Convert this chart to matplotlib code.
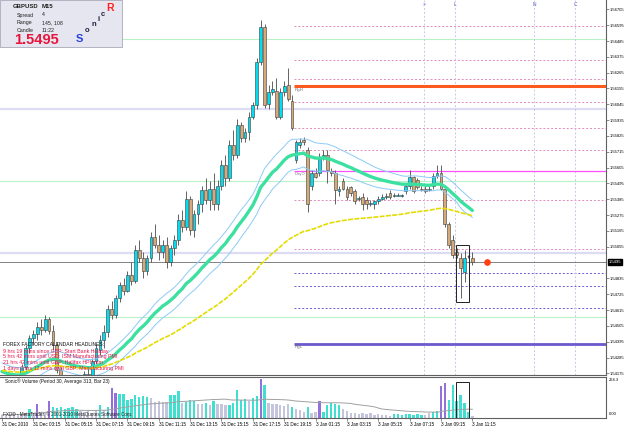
import matplotlib.pyplot as plt
import matplotlib.transforms as mtransforms
from matplotlib.patches import Rectangle
import numpy as np
import pandas as pd

plt.rcParams['font.family'] = ['Liberation Sans', 'DejaVu Sans']

W, H = 625, 429

# ---------------- data (GBPUSD M15) ----------------
opens = [1.5401, 1.5399, 1.5402, 1.5404, 1.5408, 1.5413, 1.5422, 1.5435, 1.5442, 1.5445,
         1.5450, 1.5448, 1.5455, 1.5447, 1.5437, 1.5420, 1.5412, 1.5409, 1.5411, 1.5407,
         1.5411, 1.5414, 1.5417, 1.5415, 1.5426, 1.5434, 1.5441, 1.5446, 1.5462, 1.5458,
         1.5470, 1.5479, 1.5475, 1.5486, 1.5482, 1.5503, 1.5498, 1.5489, 1.5498, 1.5512,
         1.5507, 1.5502, 1.5507, 1.5495, 1.5505, 1.5510, 1.5524, 1.5519, 1.5539, 1.5517,
         1.5528, 1.5535, 1.5545, 1.5538, 1.5546, 1.5535, 1.5548, 1.5562, 1.5553, 1.5576,
         1.5569, 1.5590, 1.5581, 1.5585, 1.5596, 1.5604, 1.5634, 1.5658, 1.5605, 1.5613,
         1.5614, 1.5596, 1.5613, 1.5618, 1.5607, 1.5566, 1.5576, 1.5580, 1.5573, 1.5548,
         1.5557, 1.5557, 1.5567, 1.5569, 1.5558, 1.5557, 1.5544, 1.5551, 1.5546, 1.5547,
         1.5544, 1.5539, 1.5540, 1.5538, 1.5535, 1.5535, 1.5537, 1.5539, 1.5540, 1.5543,
         1.5541, 1.5541, 1.5541, 1.5544, 1.5548, 1.5554, 1.5552, 1.5546, 1.5546, 1.5545,
         1.5548, 1.5555, 1.5557, 1.5546, 1.5521, 1.5510, 1.5502, 1.5498, 1.5488, 1.5499,
         1.5498]
highs = [1.5405, 1.5404, 1.5406, 1.5410, 1.5415, 1.5424, 1.5437, 1.5444, 1.5448, 1.5453,
         1.5455, 1.5458, 1.5457, 1.5451, 1.5439, 1.5422, 1.5416, 1.5414, 1.5415, 1.5413,
         1.5416, 1.5419, 1.5422, 1.5428, 1.5438, 1.5444, 1.5451, 1.5465, 1.5468, 1.5472,
         1.5481, 1.5484, 1.5489, 1.5495, 1.5507, 1.5510, 1.5502, 1.5500, 1.5516, 1.5521,
         1.5514, 1.5510, 1.5512, 1.5507, 1.5514, 1.5528, 1.5531, 1.5544, 1.5541, 1.5531,
         1.5538, 1.5548, 1.5553, 1.5551, 1.5557, 1.5552, 1.5566, 1.5569, 1.5580, 1.5587,
         1.5594, 1.5592, 1.5588, 1.5599, 1.5606, 1.5637, 1.5663, 1.5660, 1.5618, 1.5621,
         1.5623, 1.5616, 1.5621, 1.5630, 1.5611, 1.5580, 1.5581, 1.5582, 1.5575, 1.5559,
         1.5560, 1.5571, 1.5573, 1.5573, 1.5560, 1.5559, 1.5548, 1.5553, 1.5548, 1.5548,
         1.5546, 1.5541, 1.5543, 1.5540, 1.5538, 1.5538, 1.5541, 1.5542, 1.5543, 1.5545,
         1.5543, 1.5543, 1.5542, 1.5549, 1.5559, 1.5555, 1.5553, 1.5548, 1.5548, 1.5548,
         1.5557, 1.5562, 1.5562, 1.5548, 1.5523, 1.5514, 1.5505, 1.5501, 1.5503, 1.5500,
         1.5502]
lows = [1.5397, 1.5394, 1.5398, 1.5401, 1.5405, 1.5410, 1.5420, 1.5432, 1.5437, 1.5441,
        1.5444, 1.5446, 1.5445, 1.5434, 1.5418, 1.5410, 1.5406, 1.5404, 1.5405, 1.5404,
        1.5407, 1.5410, 1.5413, 1.5413, 1.5424, 1.5430, 1.5435, 1.5443, 1.5455, 1.5456,
        1.5467, 1.5472, 1.5474, 1.5479, 1.5480, 1.5495, 1.5484, 1.5486, 1.5495, 1.5505,
        1.5496, 1.5498, 1.5491, 1.5492, 1.5500, 1.5507, 1.5516, 1.5517, 1.5514, 1.5512,
        1.5521, 1.5530, 1.5535, 1.5531, 1.5531, 1.5531, 1.5545, 1.5548, 1.5551, 1.5566,
        1.5567, 1.5578, 1.5578, 1.5580, 1.5594, 1.5601, 1.5632, 1.5602, 1.5601, 1.5611,
        1.5594, 1.5594, 1.5610, 1.5607, 1.5587, 1.5564, 1.5574, 1.5576, 1.5530, 1.5545,
        1.5553, 1.5555, 1.5566, 1.5550, 1.5555, 1.5535, 1.5541, 1.5545, 1.5538, 1.5541,
        1.5535, 1.5537, 1.5531, 1.5532, 1.5534, 1.5532, 1.5535, 1.5538, 1.5539, 1.5539,
        1.5540, 1.5541, 1.5540, 1.5542, 1.5546, 1.5543, 1.5546, 1.5544, 1.5543, 1.5544,
        1.5546, 1.5553, 1.5545, 1.5519, 1.5505, 1.5498, 1.5498, 1.5470, 1.5481, 1.5498,
        1.5493]
closes = [1.5399, 1.5402, 1.5404, 1.5408, 1.5413, 1.5422, 1.5435, 1.5442, 1.5445, 1.5450,
          1.5448, 1.5455, 1.5447, 1.5437, 1.5420, 1.5412, 1.5409, 1.5411, 1.5407, 1.5411,
          1.5414, 1.5417, 1.5415, 1.5426, 1.5435, 1.5441, 1.5446, 1.5462, 1.5458, 1.5470,
          1.5479, 1.5475, 1.5486, 1.5482, 1.5503, 1.5498, 1.5489, 1.5498, 1.5512, 1.5507,
          1.5502, 1.5507, 1.5495, 1.5505, 1.5510, 1.5524, 1.5519, 1.5539, 1.5517, 1.5528,
          1.5535, 1.5545, 1.5538, 1.5546, 1.5535, 1.5548, 1.5562, 1.5553, 1.5576, 1.5569,
          1.5590, 1.5581, 1.5585, 1.5596, 1.5604, 1.5634, 1.5658, 1.5604, 1.5613, 1.5615,
          1.5596, 1.5613, 1.5617, 1.5608, 1.5588, 1.5578, 1.5578, 1.5578, 1.5535, 1.5557,
          1.5554, 1.5567, 1.5569, 1.5559, 1.5557, 1.5545, 1.5546, 1.5546, 1.5540, 1.5543,
          1.5537, 1.5539, 1.5535, 1.5535, 1.5536, 1.5537, 1.5539, 1.5540, 1.5541, 1.5540,
          1.5541, 1.5541, 1.5541, 1.5548, 1.5554, 1.5544, 1.5547, 1.5545, 1.5544, 1.5546,
          1.5555, 1.5557, 1.5546, 1.5521, 1.5507, 1.5500, 1.5500, 1.5491, 1.5498, 1.5499,
          1.5495]

volumes = [20, 25, 18, 30, 22, 28, 35, 60, 35, 95,
           40, 30, 110, 70, 65, 72, 60, 68, 75, 62,
           45, 40, 50, 35, 55, 85, 50, 70, 200, 165,
           160, 155, 120, 125, 150, 140, 145, 140, 130, 105,
           110, 108, 105, 150, 150, 175, 100, 105, 120, 115,
           90, 95, 100, 85, 110, 95, 90, 85, 88, 100,
           185, 120, 125, 110, 135, 145, 260, 220, 100, 95,
           90, 85, 80, 95, 70, 60, 50, 40, 75, 35,
           40, 110, 40, 85, 100, 95, 85, 60, 45, 30,
           30, 25, 30, 25, 30, 20, 25, 20, 22, 15,
           25, 25, 20, 25, 25, 22, 25, 22, 20, 35,
           40, 45, 210, 230, 120, 215, 110, 150, 100, 40,
           10]
# c = normal, l = low, p = climax
vol_kind = list("lllllllclp" "llpccccccc" "lllllclcpp" "ccccccccll"
                "lllccclccc" "llclclllc" "c" "cccl" "ccpcll" "llllclllcl"
                "lpccccclll" "llllllllll" "ccccccccll" "ccppcccccc" "l")

# Sonic R dragon / trend seeds (value of the averages at the first bar)
dragon_seed = 1.5420
dragon_high_seed = 1.5426
dragon_low_seed = 1.5414
trend_seed = 1.5420

# levels
session_start = 75
pivot_levels = [1.5659, 1.5635, 1.5622, 1.5606, 1.5588, 1.5573, 1.5538, 1.5504]
lower_levels = [1.5487, 1.5478, 1.5463]
green_levels = [1.5650, 1.5551, 1.5457]
lavender_levels = [1.5601, 1.5501]
range_high = 1.5617
range_low = 1.5438
day_open = 1.5558

news_bars = [107.7, 115.6, 135.7, 146.2]
news_marks = ['>', 'L', 'N', 'C']

price_ticks = [1.56705, 1.56595, 1.56485, 1.56375, 1.56265, 1.56155, 1.56045, 1.55935,
               1.55825, 1.55715, 1.55605, 1.55495, 1.55385, 1.55275, 1.55165, 1.55055,
               1.54835, 1.54725, 1.54615, 1.54505, 1.54395, 1.54285, 1.54175]
time_bars = [0, 8, 16, 24, 32, 40, 48, 56, 64, 72, 80, 88, 96, 104, 112, 120]
time_labels = ['31 Dec 2010', '31 Dec 03:15', '31 Dec 05:15', '31 Dec 07:15', '31 Dec 09:15',
               '31 Dec 11:15', '31 Dec 13:15', '31 Dec 15:15', '31 Dec 17:15', '31 Dec 19:15',
               '3 Jan 01:15', '3 Jan 03:15', '3 Jan 05:15', '3 Jan 07:15', '3 Jan 09:15',
               '3 Jan 11:15']

headlines = ['9 hrs 19 mins since GBP: Start Bank Holiday',
             '5 hrs 42 mins until USD: ISM Manufacturing PMI',
             '21 hrs 42 mins until GBP: Halifax HPI m/m',
             '1 days 0 hrs 12 mins until GBP: Manufacturing PMI']

vol_max = 264.3

# ---------------- figure ----------------
BULL = '#00dcf0'
BEAR = '#d4ab78'
VOLC = {'c': '#40e0d0', 'l': '#c4c4dc', 'p': '#9370db'}


def fx(px):
    return px / W


def fy(py):
    return 1 - py / H


def ema(values, span, seed):
    s = pd.Series([seed] + list(values))
    return s.ewm(span=span, adjust=False).mean().to_numpy()[1:]


o = np.array(opens)
h = np.array(highs)
lo = np.array(lows)
c = np.array(closes)
bars = np.arange(len(c))

fig = plt.figure(figsize=(W / 100, H / 100), dpi=100, facecolor='white')
ax = fig.add_axes([0, fy(375), fx(606), 375 / H])
axv = fig.add_axes([0, fy(418), fx(606), 41 / H])

xmin, xmax = -0.51, 154.1
ax.set_xlim(xmin, xmax)
axv.set_xlim(xmin, xmax)
ax.set_ylim(1.54164, 1.5677)

# horizontal levels
for lv in green_levels:
    ax.axhline(lv, color='#b8f0c8', lw=0.8, zorder=1)
for lv in lavender_levels:
    ax.axhline(lv, color='#dcdcf4', lw=1.6, zorder=1)
for lv in pivot_levels:
    ax.hlines(lv, session_start - 0.5, xmax, color='#e08ab8', lw=0.7,
              linestyles=(0, (2, 2)), zorder=1)
for lv in lower_levels:
    ax.hlines(lv, session_start - 0.5, xmax, color='#6a5acd', lw=0.7,
              linestyles=(0, (2, 2)), zorder=1)
ax.hlines(range_high, session_start - 0.5, xmax, color='#ff5a1e', lw=2.2, zorder=2)
ax.hlines(range_low, session_start - 0.5, xmax, color='#6a5acd', lw=2.0, zorder=2)
ax.hlines(day_open, session_start - 0.5, xmax, color='#ff50ff', lw=0.9, zorder=2)
ax.text(session_start - 0.3, range_high - 0.0001, 'RgH', fontsize=3.2, color='#707070',
        va='top', zorder=6)
ax.text(session_start - 0.3, range_low - 0.0001, 'RgL', fontsize=3.2, color='#707070',
        va='top', zorder=6)
ax.text(session_start - 0.3, day_open - 0.00005, 'DayO', fontsize=3.0, color='#808080',
        va='top', zorder=6)

for nb, mk in zip(news_bars, news_marks):
    ax.axvline(nb, color='#c8c8e4', lw=0.7, ls=(0, (2, 2)), zorder=1)
    ax.text(nb, 1.5674, mk, fontsize=3.5, color='#5a5ac8', ha='center', va='center')

ax.axhline(c[-1], color='#6e6e6e', lw=0.6, zorder=2)

# candles
ax.vlines(bars, lo, h, color='#4a4a4a', lw=0.6, zorder=3)
body = np.where(np.abs(c - o) < 0.00002, 0.00002, c - o)
up = c >= o
ax.bar(bars[up], body[up], bottom=o[up], width=0.72, color=BULL,
       edgecolor='#3a3a3a', lw=0.4, zorder=4)
ax.bar(bars[~up], body[~up], bottom=o[~up], width=0.72, color=BEAR,
       edgecolor='#3a3a3a', lw=0.4, zorder=4)

# Sonic R dragon and trend
ax.plot(bars, ema(highs, 34, dragon_high_seed), color='#8ccaf8', lw=0.7, zorder=5)
ax.plot(bars, ema(lows, 34, dragon_low_seed), color='#8ccaf8', lw=0.7, zorder=5)
ax.plot(bars, ema(closes, 34, dragon_seed), color='#3ce0a0', lw=2.4, zorder=5,
        solid_capstyle='round')
ax.plot(bars, ema(closes, 89, trend_seed), color='#e4dc00', lw=1.2,
        ls=(0, (3, 0.8)), zorder=5)

# selection box and current price dot
sel = slice(116, 120)
ax.add_patch(Rectangle((115.9, lo[sel].min() - 0.0003), 3.2,
                       h[sel].max() - lo[sel].min() + 0.0005,
                       fill=False, ec='#202020', lw=0.7, zorder=6))
ax.plot([123.7], [c[-1]], 'o', color='#ff4010', ms=3.8, zorder=7)

# axes styling
for s in ['left', 'top']:
    ax.spines[s].set_visible(False)
for s in ['right', 'bottom']:
    ax.spines[s].set_color('#606060')
    ax.spines[s].set_linewidth(0.8)
ax.set_xticks([])
ax.yaxis.tick_right()
ax.set_yticks(price_ticks)
ax.set_yticklabels([f'{p:.5f}' for p in price_ticks])
ax.tick_params(axis='y', length=2, width=0.5, pad=1, labelsize=3.0, color='#606060')
tr = mtransforms.blended_transform_factory(ax.transAxes, ax.transData)
ax.text(1.004, c[-1], f'{c[-1]:.4f}', transform=tr, fontsize=3.0, color='white',
        va='center', ha='left', clip_on=False,
        bbox=dict(fc='black', ec='black', pad=0.6))

# headlines
ax.text(fx(3) / fx(606), 1 - 344 / 375, 'FOREX FACTORY CALENDAR HEADLINES:',
        transform=ax.transAxes, fontsize=3.6, color='#101010', va='center', zorder=8)
for k, line in enumerate(headlines):
    ax.text(fx(3) / fx(606), 1 - (351 + 5.8 * k) / 375, line, transform=ax.transAxes,
            fontsize=3.8, color='#e8144a', va='center', zorder=8)

# volume panel
kinds = vol_kind[:len(volumes)]
axv.bar(bars, volumes, width=0.6, color=[VOLC[k] for k in kinds], lw=0, zorder=2)
axv.plot(bars, pd.Series(volumes).rolling(30, min_periods=1).mean(),
         color='#a0a0a0', lw=0.7, zorder=3)
axv.set_ylim(0, 270)
axv.add_patch(Rectangle((115.9, 2), 3.2, 233, fill=False, ec='#202020', lw=0.7, zorder=4))
axv.spines['left'].set_visible(False)
for s in ['right', 'bottom', 'top']:
    axv.spines[s].set_color('#606060')
    axv.spines[s].set_linewidth(0.8)
axv.set_yticks([])
axv.set_xticks(time_bars)
axv.set_xticklabels(time_labels)
axv.tick_params(axis='x', length=2, width=0.5, pad=1, labelsize=3.3, color='#606060')
for lbl in axv.get_xticklabels():
    lbl.set_horizontalalignment('left')
axv.text(0.008, 0.9, 'Sonic® Volume (Period 30, Average 313, Bar 23)', transform=axv.transAxes,
         fontsize=3.4, color='#101010', va='center')
axv.text(0.005, 0.1, 'FXDD - MetaTrader, © 2001-2010 MetaQuotes Software Corp.',
         transform=axv.transAxes, fontsize=3.3, color='#202020', va='center', zorder=5)
fig.text(fx(609), fy(380), f'{vol_max:.1f}', fontsize=3.0, va='center')
fig.text(fx(609), fy(414), '0.00', fontsize=3.0, va='center')

# info panel
fig.add_artist(Rectangle((0, fy(47)), fx(122), 47 / H, transform=fig.transFigure,
                         fc='#e6e6f0', ec='#a8a8b8', lw=0.6, zorder=10))
info = [('GBPUSD', 13, 6, 4.3, 'bold'), ('M15', 42, 6, 4.3, 'bold'),
        ('Spread', 17, 15, 3.8, 'normal'), ('4', 42, 15, 3.8, 'normal'),
        ('Range', 17, 22.5, 3.8, 'normal'), ('145, 108', 42, 22.5, 3.8, 'normal'),
        ('Candle', 17, 30, 3.8, 'normal'), ('11:22', 42, 30, 3.8, 'normal')]
for txt, px, py, fs, fw in info:
    fig.text(fx(px), fy(py), txt, fontsize=fs, fontweight=fw, color='#202020',
             va='center', zorder=11)
fig.text(fx(14), fy(40), f'{c[-1]:.4f}', fontsize=10.5, fontweight='bold', color='#e8143c',
         va='center', zorder=11)
fig.text(fx(76), fy(39), 'S', fontsize=8, fontweight='bold', color='#2a40e0',
         va='center', zorder=11)
for ch, px, py in [('o', 85, 31), ('n', 91, 25), ('i', 97, 19.5), ('c', 101, 14)]:
    fig.text(fx(px), fy(py), ch, fontsize=5.5, fontweight='bold', color='#202040',
             va='center', zorder=11)
fig.text(fx(106), fy(8), 'R', fontsize=7.5, fontweight='bold', color='#ff2020',
         va='center', zorder=11)

fig.savefig('out.png', dpi=100, facecolor='white')
